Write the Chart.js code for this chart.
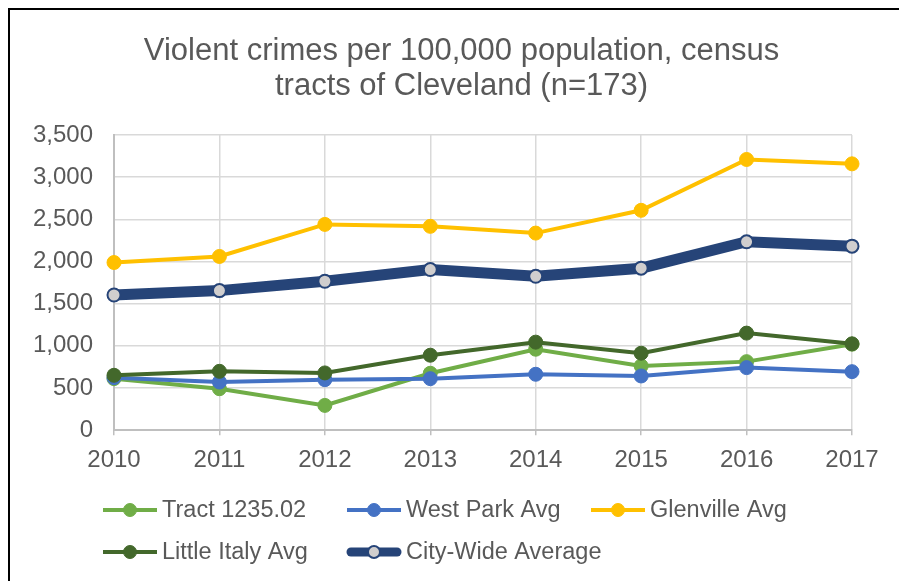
<!doctype html>
<html>

<head>
    <title>Violent crimes</title>
    <script src="https://cdn.jsdelivr.net/npm/chart.js"></script>
    <style>
        body {
            margin: 0;
            background: #ffffff;
            overflow: hidden;
        }

        #frame {
            position: absolute;
            left: 8px;
            top: 8px;
            width: 1000px;
            height: 1000px;
            border-left: 2px solid #000000;
            border-top: 2px solid #000000;
            pointer-events: none;
        }
    </style>
</head>

<body>
    <div style="position: absolute; left: 0; top: 0; width: 899px; height: 581px;">
        <canvas id="grafico"></canvas>
    </div>
    <div id="frame"></div>

    <script>
        var anos = ['2010', '2011', '2012', '2013', '2014', '2015', '2016', '2017'];
        var tract = [611, 492, 294, 675, 960, 762, 813, 1020];
        var westPark = [623, 571, 599, 611, 663, 643, 742, 694];
        var glenville = [1988, 2060, 2440, 2417, 2337, 2607, 3210, 3158];
        var littleItaly = [651, 698, 679, 889, 1044, 913, 1151, 1024];
        var cidade = [1603, 1655, 1766, 1905, 1825, 1921, 2234, 2182];
        var titulo = ['Violent crimes per 100,000 population, census', 'tracts of Cleveland (n=173)'];

        var corTexto = '#595959';
        var fonte = "'Liberation Sans', Arial, sans-serif";

        // legenda em duas linhas, igual ao Excel
        var legendaPos = [[103, 510], [347, 510], [591, 510], [103, 552], [347, 552]];

        // titulo centrado como no Excel (um pouco a direita do centro)
        var tituloPlugin = {
            id: 'tituloExcel',
            afterDraw: function (chart) {
                var ctx = chart.ctx;
                ctx.save();
                ctx.fillStyle = corTexto;
                ctx.font = '31px ' + fonte;
                ctx.textAlign = 'center';
                ctx.textBaseline = 'middle';
                titulo.forEach(function (linha, i) {
                    ctx.fillText(linha, 461.5, 51 + i * 35);
                });
                ctx.restore();
            }
        };

        var legendaPlugin = {
            id: 'legendaExcel',
            afterDraw: function (chart) {
                var ctx = chart.ctx;
                chart.data.datasets.forEach(function (ds, i) {
                    var x = legendaPos[i][0];
                    var y = legendaPos[i][1];
                    var grossa = ds.borderWidth > 5;
                    ctx.save();
                    ctx.strokeStyle = ds.borderColor;
                    ctx.lineWidth = grossa ? 9 : ds.borderWidth;
                    ctx.lineCap = grossa ? 'round' : 'butt';
                    ctx.beginPath();
                    ctx.moveTo(x + (grossa ? 4 : 0), y);
                    ctx.lineTo(x + 54 - (grossa ? 4 : 0), y);
                    ctx.stroke();
                    ctx.beginPath();
                    ctx.arc(x + 27, y, ds.pointRadius - 0.5, 0, Math.PI * 2);
                    ctx.fillStyle = ds.pointBackgroundColor;
                    ctx.fill();
                    ctx.lineWidth = ds.pointBorderWidth;
                    ctx.strokeStyle = ds.pointBorderColor;
                    ctx.stroke();
                    ctx.fillStyle = corTexto;
                    ctx.font = '23.5px ' + fonte;
                    ctx.textBaseline = 'middle';
                    ctx.textAlign = 'left';
                    ctx.fillText(ds.label, x + 59, y + 1);
                    ctx.restore();
                });
            }
        };

        function serie(label, dados, cor, ordem) {
            return {
                label: label,
                data: dados,
                borderColor: cor,
                backgroundColor: cor,
                borderWidth: 4,
                pointRadius: 7,
                pointHoverRadius: 7,
                pointBackgroundColor: cor,
                pointBorderColor: cor,
                pointBorderWidth: 1,
                tension: 0,
                order: ordem
            };
        }

        var contexto = document.getElementById('grafico');
        var grafico = new Chart(contexto, {
            type: 'line',
            data: {
                labels: anos,
                datasets: [
                    serie('Tract 1235.02', tract, '#70ad47', 5),
                    serie('West Park Avg', westPark, '#4472c4', 4),
                    serie('Glenville Avg', glenville, '#ffc000', 3),
                    serie('Little Italy Avg', littleItaly, '#43682b', 2),
                    {
                        label: 'City-Wide Average',
                        data: cidade,
                        borderColor: '#264478',
                        backgroundColor: '#264478',
                        borderWidth: 11,
                        pointRadius: 6.5,
                        pointHoverRadius: 6.5,
                        pointBackgroundColor: '#d0cece',
                        pointBorderColor: '#264478',
                        pointBorderWidth: 2,
                        tension: 0,
                        order: 1
                    }
                ]
            },
            options: {
                responsive: true,
                maintainAspectRatio: false,
                animation: false,
                layout: {
                    padding: { left: 8, right: 47, top: 135, bottom: 95 }
                },
                plugins: {
                    legend: { display: false },
                    tooltip: { enabled: false },
                    title: { display: false }
                },
                scales: {
                    x: {
                        offset: false,
                        grid: {
                            color: '#d9d9d9',
                            lineWidth: 1.5,
                            tickLength: 5,
                            tickColor: '#bfbfbf'
                        },
                        border: { color: '#bfbfbf', width: 2 },
                        ticks: {
                            color: corTexto,
                            font: { family: fonte, size: 24 },
                            padding: 11,
                            maxRotation: 0
                        }
                    },
                    y: {
                        min: 0,
                        max: 3500,
                        afterFit: function (escala) { escala.width = 106; },
                        grid: {
                            color: '#d9d9d9',
                            lineWidth: 1.5,
                            tickLength: 0
                        },
                        border: { color: '#bfbfbf', width: 2 },
                        ticks: {
                            stepSize: 500,
                            color: corTexto,
                            font: { family: fonte, size: 24 },
                            padding: 21,
                            callback: function (v) { return v.toLocaleString('en-US'); }
                        }
                    }
                }
            },
            plugins: [tituloPlugin, legendaPlugin]
        });
    </script>
</body>

</html>
